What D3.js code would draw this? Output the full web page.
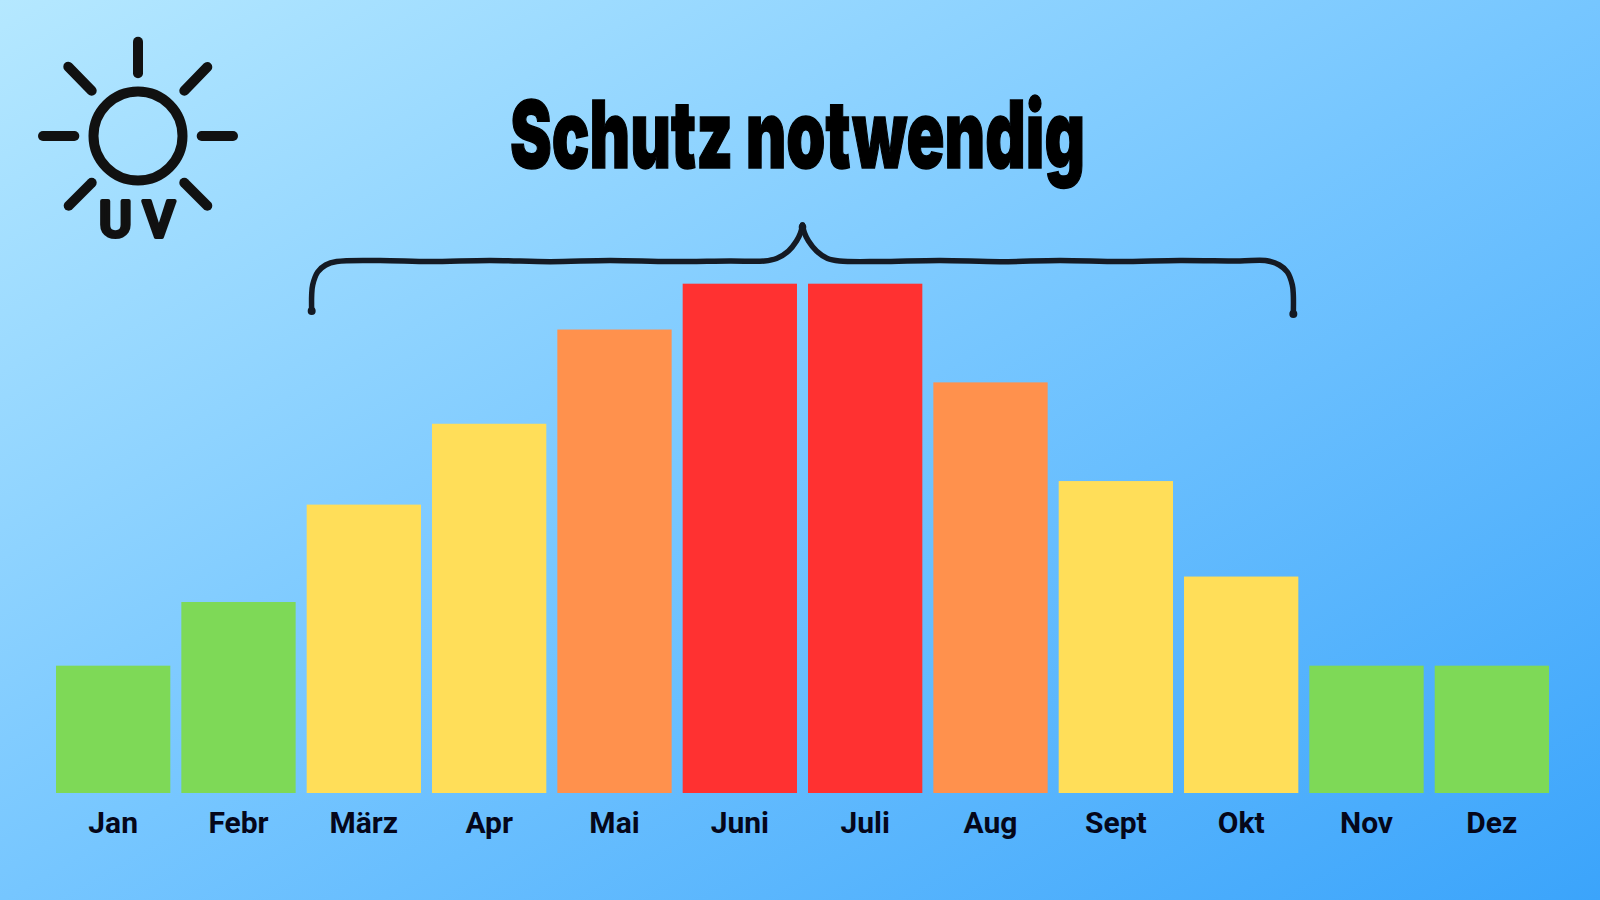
<!DOCTYPE html>
<html lang="de">
<head>
    <meta charset="UTF-8">
    <title>Schutz notwendig</title>
    <script src="https://d3js.org/d3.v7.min.js"></script>
    <style>
        html, body { margin: 0; padding: 0; overflow: hidden; }
        svg { display: block; }
        .tick text { font-family: Roboto, sans-serif; font-weight: 700; font-size: 30px; fill: #05071a; }
    </style>
</head>
<body>
<svg id="chart" width="1600" height="900"></svg>

<script>
    const months = ["Jan", "Febr", "März", "Apr", "Mai", "Juni", "Juli", "Aug", "Sept", "Okt", "Nov", "Dez"];
    // no axis in the picture, heights read as a UV index with the peak at 8
    const uvIndex = [2, 3, 4.53, 5.8, 7.28, 8, 8, 6.45, 4.9, 3.4, 2, 2];
    const levels = ["low", "low", "mid", "mid", "high", "peak", "peak", "high", "mid", "mid", "low", "low"];
    const levelNames = ["low", "mid", "high", "peak"];
    const levelColors = ["#7ed957", "#ffde59", "#ff914d", "#ff3131"];

    const width = 1600, height = 900;
    const svg = d3.select("#chart");

    // background, corner to corner
    const grad = svg.append("defs").append("linearGradient")
        .attr("id", "bg")
        .attr("x1", 0).attr("y1", 0)
        .attr("x2", 1).attr("y2", 1);
    grad.append("stop").attr("offset", "0").attr("stop-color", "#b5e8ff");
    grad.append("stop").attr("offset", "0.5").attr("stop-color", "#76c6ff");
    grad.append("stop").attr("offset", "1").attr("stop-color", "#3ba4fb");
    svg.append("rect").attr("width", width).attr("height", height).attr("fill", "url(#bg)");

    const x = d3.scaleBand().domain(months).range([56, 1549]).paddingInner(0.088);
    const y = d3.scaleLinear().domain([0, 8]).range([793, 283.7]);
    const color = d3.scaleOrdinal().domain(levelNames).range(levelColors);

    // bars
    svg.append("g").selectAll("rect")
        .data(months)
        .enter().append("rect")
        .attr("x", d => x(d))
        .attr("y", (d, i) => y(uvIndex[i]))
        .attr("width", x.bandwidth())
        .attr("height", (d, i) => y(0) - y(uvIndex[i]))
        .attr("fill", (d, i) => color(levels[i]));

    // month labels
    const axis = svg.append("g")
        .attr("transform", `translate(0,${y(0)})`)
        .call(d3.axisBottom(x).tickSize(0).tickPadding(18.5));
    axis.select(".domain").remove();

    // title
    svg.append("text")
        .attr("x", 510).attr("y", 168)
        .attr("textLength", 575)
        .attr("lengthAdjust", "spacingAndGlyphs")
        .attr("font-family", "Inter, sans-serif")
        .attr("font-weight", 900)
        .attr("font-size", 94)
        .attr("fill", "#000")
        .attr("stroke", "#000")
        .attr("stroke-width", 1.5)
        .text("Schutz notwendig");

    // curly brace from März to Okt
    const left = x("März") + 5, right = x("Okt") + x.bandwidth() - 5, mid = (left + right) / 2;
    const braceLeft = [
        [left, 311], [left, 295], [left + 1, 285], [left + 6, 272], [left + 14, 265], [left + 25, 261.5],
        [380, 260.5], [430, 261.6], [490, 260.4], [550, 261.7], [610, 260.5], [670, 261.6], [730, 261],
        [mid - 38, 261], [mid - 26, 258.5], [mid - 14, 251], [mid - 6, 241], [mid - 2, 233], [mid, 225]
    ];
    const braceRight = [
        [mid, 225], [mid + 2, 233], [mid + 6, 241], [mid + 14, 251], [mid + 25, 258.5], [mid + 37, 261],
        [880, 261.5], [940, 260.4], [1000, 261.7], [1060, 260.5], [1120, 261.6], [1180, 260.4], [1240, 261],
        [right - 28, 260.5], [right - 14, 265], [right - 6, 272], [right - 1, 285], [right, 295], [right, 314]
    ];
    const braceLine = d3.line().curve(d3.curveCatmullRom);
    svg.append("g").selectAll("path")
        .data([braceLeft, braceRight])
        .enter().append("path")
        .attr("d", braceLine)
        .attr("fill", "none")
        .attr("stroke", "#141a24")
        .attr("stroke-width", 5.5)
        .attr("stroke-linecap", "round");
    svg.append("circle").attr("cx", left).attr("cy", 311).attr("r", 4).attr("fill", "#141a24");
    svg.append("circle").attr("cx", right).attr("cy", 314).attr("r", 4).attr("fill", "#141a24");
    svg.append("circle").attr("cx", mid).attr("cy", 227).attr("r", 3.8).attr("fill", "#141a24");

    // UV sun icon
    const sunRays = [
        [138, 41.7, 138, 73.3], [43, 136, 74.3, 136], [201.7, 136, 233, 136],
        [68.3, 66.7, 91.7, 90.7], [207.3, 67, 184.3, 90.7],
        [68.7, 205.7, 91.7, 182.7], [207.3, 205.7, 184.3, 182.7]
    ];
    const sun = svg.append("g").attr("stroke", "#111").attr("stroke-width", 10).attr("stroke-linecap", "round");
    sun.append("circle").attr("cx", 138).attr("cy", 136).attr("r", 44.5).attr("fill", "none");
    sun.selectAll("line")
        .data(sunRays)
        .enter().append("line")
        .attr("x1", d => d[0]).attr("y1", d => d[1])
        .attr("x2", d => d[2]).attr("y2", d => d[3]);
    svg.append("text")
        .attr("x", 99).attr("y", 237)
        .attr("textLength", 76)
        .attr("font-family", "Roboto, sans-serif")
        .attr("font-weight", 500)
        .attr("font-size", 50)
        .attr("fill", "#111")
        .attr("stroke", "#111")
        .attr("stroke-width", 4)
        .attr("stroke-linejoin", "round")
        .text("UV");
</script>
</body>
</html>
